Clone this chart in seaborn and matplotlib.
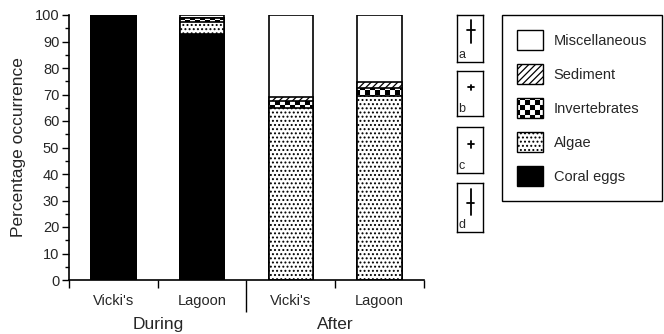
import warnings
import numpy as np
import pandas as pd
import matplotlib
matplotlib.use("Agg")
import matplotlib.pyplot as plt
from matplotlib import hatch as mhatch
from matplotlib.path import Path
from matplotlib.patches import Patch
import seaborn as sns

warnings.filterwarnings("ignore")

# ---------------- data ----------------
bar_keys = ["During Vicki's", "During Lagoon", "After Vicki's", "After Lagoon"]
site_labels = ["Vicki's", "Lagoon", "Vicki's", "Lagoon"]
period_labels = ["During", "After"]
categories = ["Coral eggs", "Algae", "Invertebrates", "Sediment", "Miscellaneous"]
coral_eggs = [100.0, 92.8, 0.0, 0.0]
algae = [0.0, 4.6, 65.0, 69.5]
invertebrates = [0.0, 1.4, 2.5, 3.0]
sediment = [0.0, 0.2, 1.5, 2.3]
miscellaneous = [0.0, 1.0, 31.0, 25.2]

# small inset glyph panels (fractions of each panel)
panel_labels = ["a", "b", "c", "d"]
cross_low = [0.41, 0.58, 0.55, 0.35]
cross_high = [0.89, 0.69, 0.69, 0.88]
cross_level = [0.68, 0.64, 0.63, 0.60]
cross_half = [0.15, 0.11, 0.11, 0.13]

# ---------------- custom checker hatch ----------------
class CheckerHatch(mhatch.HatchPatternBase):
    def __init__(self, hatch, density):
        k = hatch.count("k")
        self.n = 10 * k
        if self.n:
            self.cells = [(i, j) for i in range(self.n) for j in range(self.n)
                          if (i + j) % 2 == 0]
        else:
            self.cells = []
        self.num_vertices = len(self.cells) * 5

    def set_vertices_and_codes(self, vertices, codes):
        s = 1.0 / self.n
        pad = 0.12 * s
        idx = 0
        for (i, j) in self.cells:
            x0, y0 = i * s + pad, j * s + pad
            x1, y1 = (i + 1) * s - pad, (j + 1) * s - pad
            vertices[idx:idx + 5] = [(x0, y0), (x1, y0), (x1, y1), (x0, y1), (x0, y0)]
            codes[idx:idx + 5] = [Path.MOVETO, Path.LINETO, Path.LINETO,
                                  Path.LINETO, Path.CLOSEPOLY]
            idx += 5

mhatch._hatch_types.append(CheckerHatch)
_orig_validate = mhatch._validate_hatch_pattern
def _validate(h):
    if h is not None:
        h = h.replace("k", "")
    return _orig_validate(h)
mhatch._validate_hatch_pattern = _validate

# ---------------- styling ----------------
sns.set_theme(style="ticks")
plt.rcParams["font.family"] = ["Liberation Sans", "DejaVu Sans"]
plt.rcParams["hatch.linewidth"] = 0.9
plt.rcParams["hatch.color"] = "black"

styles = {
    "Miscellaneous": dict(color="white", hatch=None),
    "Sediment": dict(color="white", hatch="/////"),
    "Invertebrates": dict(color="white", hatch="kk"),
    "Algae": dict(color="white", hatch="...."),
    "Coral eggs": dict(color="black", hatch=None),
}

values = {
    "Coral eggs": coral_eggs,
    "Algae": algae,
    "Invertebrates": invertebrates,
    "Sediment": sediment,
    "Miscellaneous": miscellaneous,
}

df = pd.DataFrame({"bar": bar_keys})
running = np.zeros(len(bar_keys))
for cat in categories:
    running = running + np.array(values[cat])
    df[cat] = running.copy()

fig = plt.figure(figsize=(6.64, 3.34), dpi=100)
ax = fig.add_axes([69 / 664, 1 - 280 / 334, (424 - 69) / 664, (280 - 15) / 334])

# draw cumulative layers, top category first so lower ones overlay
for cat in categories[::-1]:
    st = styles[cat]
    sns.barplot(data=df, x="bar", y=cat, order=bar_keys, color=st["color"],
                saturation=1, width=0.5, edgecolor="black", linewidth=1.2,
                hatch=st["hatch"], ax=ax, errorbar=None)

ax.set_xlim(-0.5, 3.5)
ax.set_ylim(0, 100)
ax.set_xlabel("")
ax.set_ylabel("Percentage occurrence", fontsize=12.5, labelpad=6)

ax.set_yticks(np.arange(0, 101, 10))
ax.set_yticks(np.arange(0, 101, 5), minor=True)
ax.tick_params(axis="y", which="major", length=5, width=1, labelsize=10.5, pad=2,
               direction="out", color="black")
ax.tick_params(axis="y", which="minor", length=3, width=1, direction="out",
               color="black")

ax.set_xticks(range(4))
ax.set_xticklabels(site_labels)
ax.tick_params(axis="x", which="major", length=0, labelsize=10.5, pad=10)
ax.set_xticks([-0.5, 0.5, 1.5, 2.5, 3.5], minor=True)
ax.tick_params(axis="x", which="minor", length=6, width=1, direction="out",
               color="black")
for t, loc in zip(ax.xaxis.get_minor_ticks(), [-0.5, 0.5, 1.5, 2.5, 3.5]):
    if loc == 1.5:
        t.tick1line.set_markersize(23)

for i, lab in enumerate(period_labels):
    ax.text(0.5 + 2 * i, -0.138, lab, transform=ax.get_xaxis_transform(),
            ha="center", va="top", fontsize=12.5)

for s in ["top", "right"]:
    ax.spines[s].set_visible(False)
for s in ["left", "bottom"]:
    ax.spines[s].set_linewidth(1.2)
    ax.spines[s].set_color("black")

# legend
handles = [Patch(facecolor=styles[c]["color"], edgecolor="black",
                 hatch=styles[c]["hatch"], linewidth=1.0, label=c)
           for c in categories[::-1]]
leg = fig.legend(handles=handles, loc="upper left",
                 bbox_to_anchor=(502 / 664, 1 - 15 / 334),
                 frameon=True, fancybox=False, edgecolor="black", framealpha=1,
                 fontsize=10.5, handlelength=1.75, handleheight=1.7,
                 labelspacing=0.98, handletextpad=0.75, borderpad=1.05,
                 borderaxespad=0)
leg.get_frame().set_linewidth(1.0)

# inset glyph panels
panel_bottoms = [61.7, 116, 173, 232]
panel_tops = [15, 71, 126.7, 183]
for k, lab in enumerate(panel_labels):
    pax = fig.add_axes([456.7 / 664, 1 - panel_bottoms[k] / 334, 26.3 / 664,
                        (panel_bottoms[k] - panel_tops[k]) / 334])
    pax.set_xlim(0, 1)
    pax.set_ylim(0, 1)
    pax.set_xticks([])
    pax.set_yticks([])
    for s in pax.spines.values():
        s.set_visible(True)
        s.set_linewidth(1.0)
        s.set_color("black")
    pax.plot([0.53, 0.53], [cross_low[k], cross_high[k]], color="black", lw=1.3)
    pax.plot([0.53 - cross_half[k], 0.53 + cross_half[k]],
             [cross_level[k], cross_level[k]], color="black", lw=1.3)
    pax.text(0.06, 0.02, lab, transform=pax.transAxes, ha="left", va="bottom",
             fontsize=9)

fig.savefig("out.png", dpi=100)
